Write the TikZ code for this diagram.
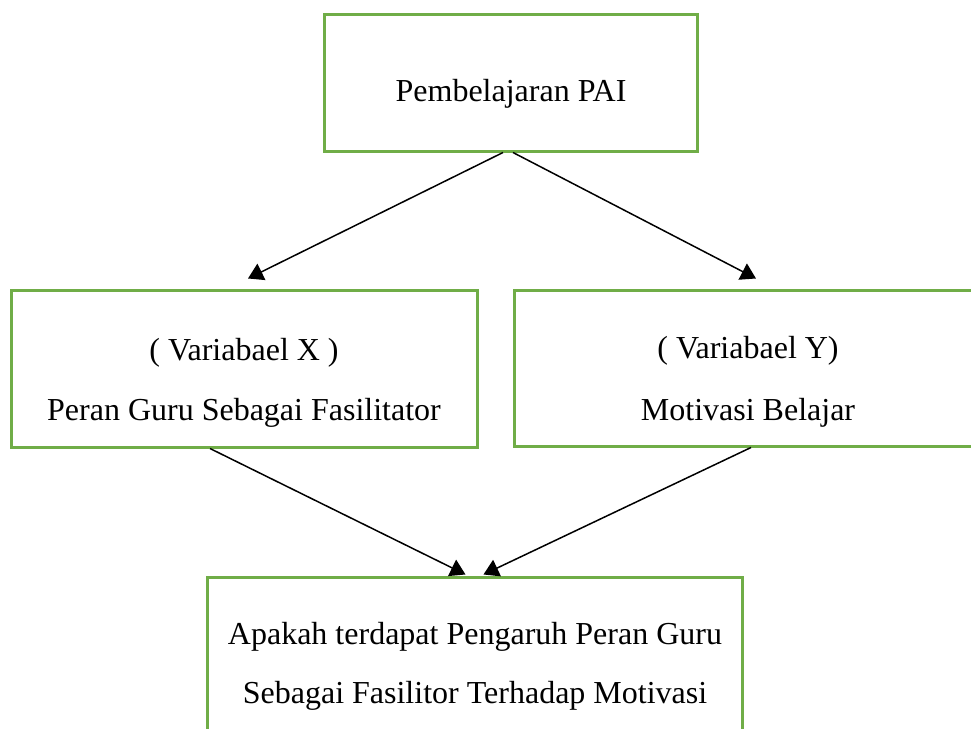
\documentclass[tikz,border=0pt]{standalone}
\usepackage{fontspec}
\setmainfont{Liberation Serif}
\usetikzlibrary{arrows.meta}
\definecolor{boxgreen}{HTML}{70AD47}

\begin{document}
\begin{tikzpicture}[x=0.5pt, y=-0.5pt, >={Triangle[width=9pt,length=7.5pt]},
    box/.style={draw=boxgreen, line width=1.5pt, rectangle, inner sep=0pt},
    txt/.style={anchor=base, inner sep=0pt, font=\fontsize{16}{18}\selectfont},
    link/.style={->, line width=0.75pt}]
      \useasboundingbox (0,0) rectangle (971,729);

      \node[box, minimum width=186.5pt, minimum height=68.5pt] (pai) at (510.5,82.5) {};
      \node[txt] (pai-text) at (511,101) {Pembelajaran PAI};

      \node[box, minimum width=233pt, minimum height=78.5pt] (varx) at (244,368.5) {};
      \node[txt] (varx-title) at (244,360) {( Variabael X )};
      \node[txt] (varx-name) at (244,420) {Peran Guru Sebagai Fasilitator};

      \node[box, minimum width=234pt, minimum height=78pt] (vary) at (748,368) {};
      \node[txt] (vary-title) at (748,358) {( Variabael Y)};
      \node[txt] (vary-name) at (748,420) {Motivasi Belajar};

      \node[box, minimum width=267.5pt, minimum height=111.5pt] (ask) at (474.5,688.5) {};
      \node[txt] (ask-line1) at (475,644) {Apakah terdapat Pengaruh Peran Guru};
      \node[txt] (ask-line2) at (475,703) {Sebagai Fasilitor Terhadap Motivasi};

      \draw[link] ([xshift=-3.75pt]pai.south) -- ([xshift=2pt,yshift=5pt]varx.north);
      \draw[link] ([xshift=1.25pt]pai.south) -- ([xshift=4pt,yshift=5pt]vary.north);
      \draw[link] ([xshift=-17pt]varx.south) -- ([xshift=-4.5pt,yshift=0.5pt]ask.north);
      \draw[link] ([xshift=1.5pt]vary.south) -- ([xshift=4.5pt,yshift=0.5pt]ask.north);
\end{tikzpicture}
\end{document}
